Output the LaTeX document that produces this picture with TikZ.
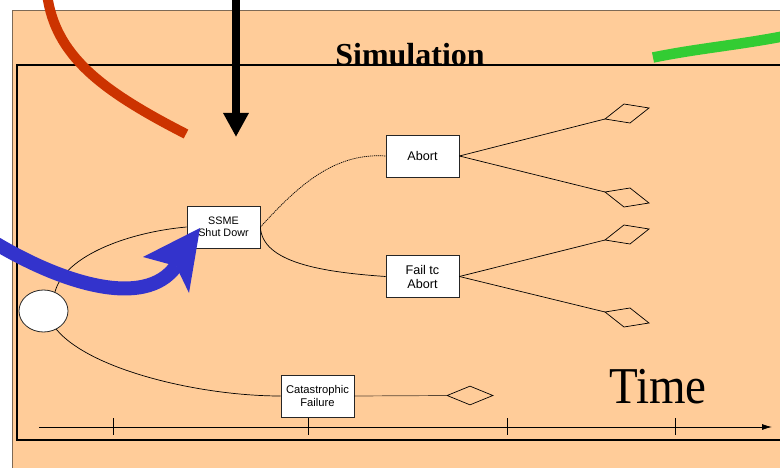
\documentclass[tikz,border=0pt]{standalone}
\usepackage{fontspec}
\setmainfont{Liberation Serif}
\newfontfamily\boxfont{Liberation Sans}
\usetikzlibrary{arrows.meta,shapes.geometric}
\definecolor{peach}{RGB}{255,204,153}
\definecolor{frameedge}{RGB}{125,105,85}
\definecolor{rustred}{RGB}{204,51,0}
\definecolor{leafgreen}{RGB}{51,204,51}
\definecolor{royalblue}{RGB}{51,51,204}
\begin{document}
\begin{tikzpicture}[x=1pt,y=-1pt,
  event/.style={draw=black!85, fill=white, line width=0.8pt,
    minimum width=73pt, minimum height=42pt, inner sep=0pt, align=center},
  link/.style={line width=0.7pt},
  dotlink/.style={line width=0.7pt, dash pattern=on 1.2pt off 0.8pt},
  endstate/.style={draw, line width=0.7pt},
  tick/.style={line width=0.8pt},
  stroke/.style={line width=#1, line cap=butt}]
\useasboundingbox (0,0) rectangle (780,468);

% background panels
\draw[fill=peach, draw=frameedge, line width=0.8pt] (12,10) rectangle (800,480);
\draw[line width=2pt] (17,65) rectangle (800,440);
\node[font=\bfseries\fontsize{32}{34}\selectfont, anchor=base, inner sep=0pt] (title) at (410,66) {Simulation};

% event nodes
\node[ellipse, draw=black!85, fill=white, line width=0.8pt, minimum width=49pt, minimum height=42pt, inner sep=0pt] (start) at (43.5,311) {};
\node[event, font=\boxfont\fontsize{10.8}{12}\selectfont] (ssme) at (223.5,227) {SSME\\Shut Dowr};
\node[event, font=\boxfont\fontsize{12.6}{14}\selectfont] (abort) at (422.5,156) {Abort};
\node[event, font=\boxfont\fontsize{12.6}{14}\selectfont] (fail) at (422.5,276.5) {Fail tc\\Abort};
\node[event, font=\boxfont\fontsize{11.2}{13}\selectfont] (cat) at (317.5,396) {Catastrophic\\Failure};
\node[diamond, draw, line width=0.7pt, minimum width=46pt, minimum height=19pt, inner sep=0pt] (catend) at (470,395.5) {};

% end states (tilted diamonds)
\coordinate (e1) at (605,119);
\coordinate (e2) at (605,192);
\coordinate (e3) at (605,240);
\coordinate (e4) at (605,312);
\draw[endstate] (e1) -- ++(19,-15) -- ++(25,4) -- ++(-19,15) -- cycle;
\draw[endstate] (e2) -- ++(25,-4) -- ++(19,15) -- ++(-25,4) -- cycle;
\draw[endstate] (e3) -- ++(19,-15) -- ++(25,4) -- ++(-19,15) -- cycle;
\draw[endstate] (e4) -- ++(25,-4) -- ++(19,15) -- ++(-25,4) -- cycle;

% branches
\draw[link] (start.59) .. controls (65,255) and (130,232) .. (ssme.west);
\draw[link] (start.-55) .. controls (90,370) and (200,396) .. (cat.west);
\draw[dotlink] (ssme.east) .. controls (292,193) and (330,152) .. (abort.west);
\draw[link] (ssme.east) .. controls (262,262) and (320,272) .. (fail.west);
\draw[link] (abort.east) -- (e1);
\draw[link] (abort.east) -- (e2);
\draw[link] (fail.east) -- (e3);
\draw[link] (fail.east) -- (e4);
\draw[dotlink] (cat.east) -- (catend.west);

% time axis
\coordinate (ax0) at (39,427);
\coordinate (ax1) at (772,427);
\draw[line width=0.8pt, -{Latex[length=10pt,width=6pt]}] (ax0) -- (ax1);
\foreach \tx in {113,308,507,675}
  \draw[tick] (\tx,418) -- (\tx,435);
\node[font=\fontsize{47}{50}\selectfont, anchor=base, inner sep=0pt] (timelabel) at (658,403) {\scalebox{1}[1.1]{Time}};

% overlaid strokes
\draw[rustred, stroke=10pt] (47,-6) .. controls (55,55) and (100,90) .. (186,134);
\draw[black, line width=8pt, -{Triangle[length=24pt,width=24pt]}] (236,-5) -- (236,137);
\draw[leafgreen, stroke=10.5pt] (653,57.5) .. controls (700,48) and (740,45) .. (790,35);
\draw[royalblue, stroke=14pt] (-10,240) .. controls (60,283) and (145,310) .. (176,266);
\fill[royalblue] (200,228) -- (143,257) -- (176,266) -- (189,293) -- cycle;
\end{tikzpicture}
\end{document}
